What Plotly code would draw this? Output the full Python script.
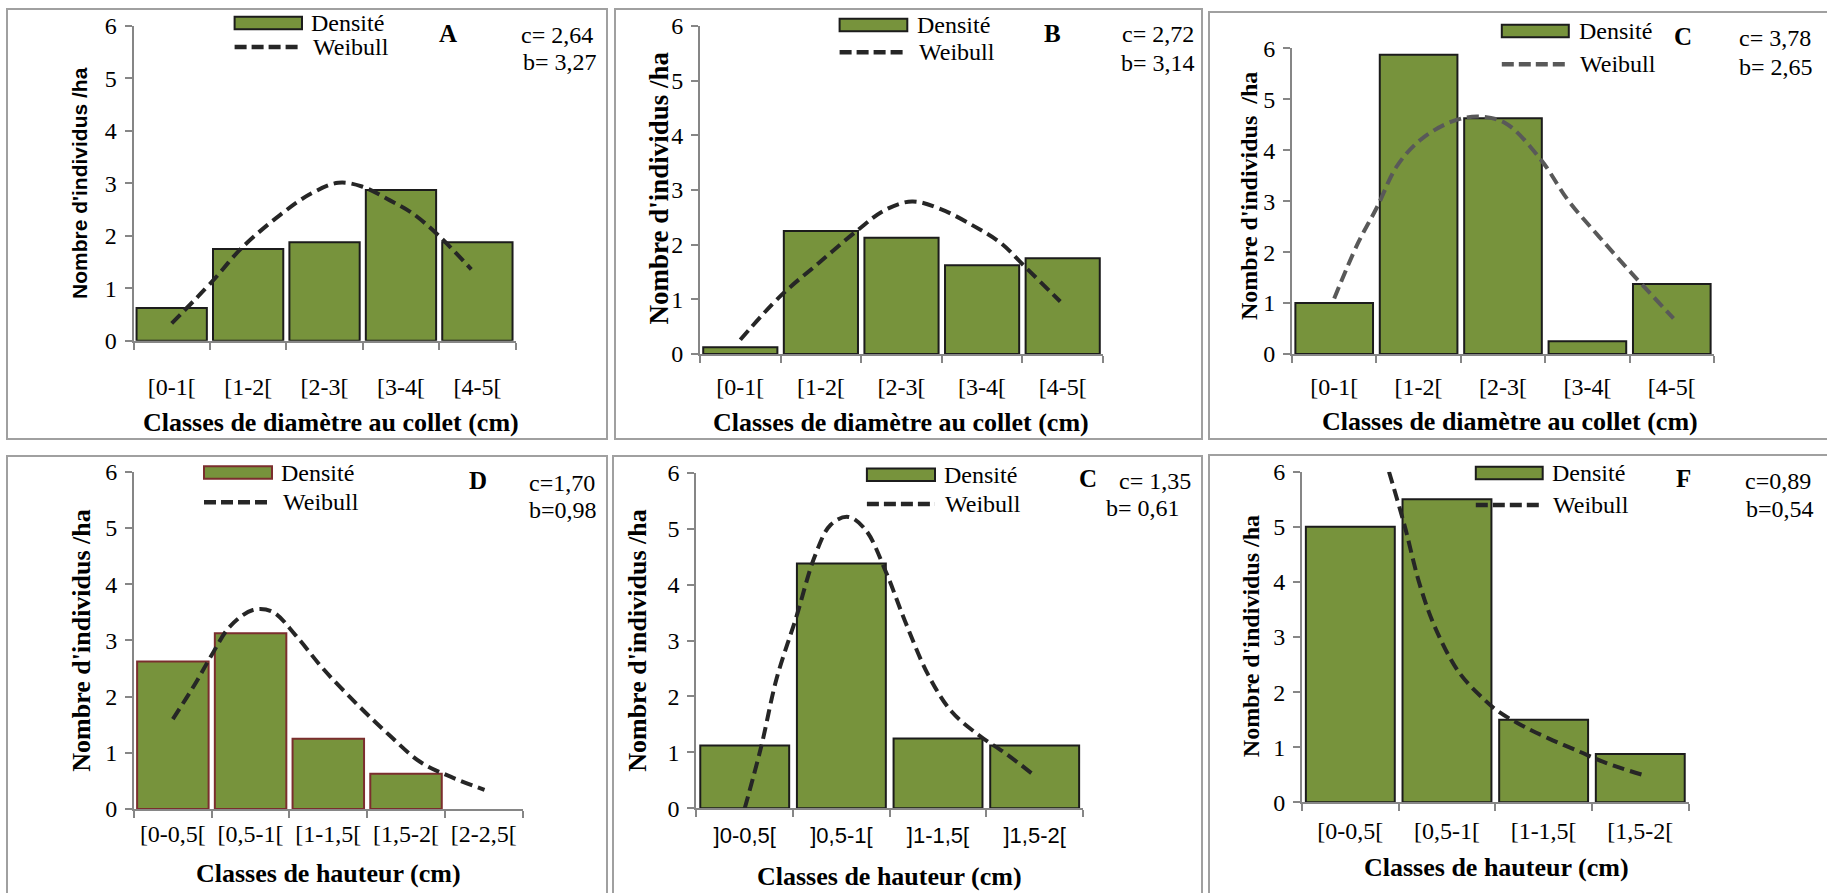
import plotly.graph_objects as go

W, H = 1827, 893

# ---------------- data ----------------
diam_categories = ["[0-1[", "[1-2[", "[2-3[", "[3-4[", "[4-5["]
haut_categories_D = ["[0-0,5[", "[0,5-1[", "[1-1,5[", "[1,5-2[", "[2-2,5["]
haut_categories_E = ["]0-0,5[", "]0,5-1[", "]1-1,5[", "]1,5-2["]
haut_categories_F = ["[0-0,5[", "[0,5-1[", "[1-1,5[", "[1,5-2["]

A_density = [0.625, 1.75, 1.875, 2.875, 1.875]
A_weibull_x = [0.0, 0.53, 0.91, 1.42, 1.83, 2.18, 2.49, 2.85, 3.15, 3.51, 3.92]
A_weibull_y = [0.33, 1.13, 1.76, 2.40, 2.81, 3.01, 2.94, 2.68, 2.43, 1.98, 1.36]

B_density = [0.125, 2.25, 2.125, 1.625, 1.75]
B_weibull_x = [0.0, 0.49, 0.97, 1.46, 1.79, 2.13, 2.47, 2.91, 3.24, 3.53, 3.97]
B_weibull_y = [0.26, 1.05, 1.66, 2.27, 2.63, 2.79, 2.66, 2.33, 2.02, 1.60, 0.96]

C_density = [1.0, 5.875, 4.625, 0.25, 1.375]
C_weibull_x = [0.0, 0.28, 0.51, 0.74, 1.02, 1.39, 1.71, 2.03, 2.45, 2.77, 3.14, 3.56, 4.02]
C_weibull_y = [1.09, 2.17, 2.89, 3.68, 4.20, 4.56, 4.66, 4.53, 3.81, 3.02, 2.30, 1.52, 0.70]

D_density = [2.625, 3.125, 1.25, 0.625, None]
D_weibull_x = [0.0, 0.28, 0.50, 0.73, 1.03, 1.28, 1.58, 1.93, 2.38, 2.78, 3.18, 3.58, 4.01]
D_weibull_y = [1.60, 2.21, 2.74, 3.24, 3.54, 3.51, 3.09, 2.50, 1.85, 1.32, 0.84, 0.57, 0.34]

E_density = [1.125, 4.375, 1.25, 1.125]
E_weibull_x = [0.0, 0.17, 0.33, 0.53, 0.73, 0.89, 1.07, 1.25, 1.46, 1.66, 1.90, 2.14, 2.42, 2.70, 3.01]
E_weibull_y = [0.0, 1.10, 2.32, 3.40, 4.53, 5.07, 5.21, 4.98, 4.23, 3.34, 2.38, 1.73, 1.31, 0.98, 0.57]

F_density = [5.0, 5.5, 1.5, 0.875]
F_weibull_x = [0.40, 0.56, 0.72, 0.88, 1.12, 1.37, 1.53, 1.77, 2.05, 2.37, 2.65, 3.02]
F_weibull_y = [6.0, 5.03, 3.94, 3.16, 2.37, 1.89, 1.65, 1.40, 1.16, 0.92, 0.71, 0.50]

y_ticks = [0, 1, 2, 3, 4, 5, 6]

title_diam = "Classes de diamètre au collet (cm)"
title_haut = "Classes de hauteur (cm)"
title_y = "Nombre d'individus /ha"
title_y_C = "Nombre d'individus  /ha"

SERIF = "Liberation Serif"
SANS = "Liberation Sans"
GREEN = "#77933c"

panels = [
    dict(cats=diam_categories, dens=A_density, wx=A_weibull_x, wy=A_weibull_y,
         letter="A", ctext="c= 2,64", btext="b= 3,27", xtitle=title_diam, ytitle=title_y,
         yfont=SANS, ysize=21, barline="#1c1c1c", wcolor="#262626", catfont=SERIF, xstand=23,
         frame=(7, 9, 607, 439), plot=(133.5, 515.6, 26, 340.7),
         leg=(234.6, 302, 23, 47, 309), letterpos=(448, 34),
         cpos=(595, 35), bpos=(599, 62), xtpos=(331, 422), ytpos=(80, 183)),
    dict(cats=diam_categories, dens=B_density, wx=B_weibull_x, wy=B_weibull_y,
         letter="B", ctext="c= 2,72", btext="b= 3,14", xtitle=title_diam, ytitle=title_y,
         yfont=SERIF, ysize=27, barline="#1c1c1c", wcolor="#262626", catfont=SERIF, xstand=10,
         frame=(615, 9, 1202, 439), plot=(700, 1103, 26, 354),
         leg=(839.6, 907.3, 25, 52.3, 915), letterpos=(1052, 33),
         cpos=(1196, 34), bpos=(1197, 63), xtpos=(900.7, 422), ytpos=(658.5, 188)),
    dict(cats=diam_categories, dens=C_density, wx=C_weibull_x, wy=C_weibull_y,
         letter="C", ctext="c= 3,78", btext="b= 2,65", xtitle=title_diam, ytitle=title_y_C,
         yfont=SERIF, ysize=24, barline="#1c1c1c", wcolor="#595959", catfont=SERIF, xstand=10,
         frame=(1209, 12, 1832, 439), plot=(1292, 1714, 48.3, 354),
         leg=(1501.8, 1568.8, 31, 64.3, 1576.5), letterpos=(1682.8, 36.7),
         cpos=(1813, 38.3), bpos=(1815, 66.7), xtpos=(1509.6, 421), ytpos=(1249, 196)),
    dict(cats=haut_categories_D, dens=D_density, wx=D_weibull_x, wy=D_weibull_y,
         letter="D", ctext="c=1,70", btext="b=0,98", xtitle=title_haut, ytitle=title_y,
         yfont=SERIF, ysize=26, barline="#7b2e2e", wcolor="#262626", catfont=SERIF, xstand=2,
         frame=(7, 456, 607, 900), plot=(134, 522.6, 471.7, 809),
         leg=(204, 272, 472.5, 502.3, 279), letterpos=(478.3, 480.8),
         cpos=(597, 483), bpos=(599, 510), xtpos=(328.8, 873), ytpos=(80.7, 640)),
    dict(cats=haut_categories_E, dens=E_density, wx=E_weibull_x, wy=E_weibull_y,
         letter="C", ctext="c= 1,35", btext="b= 0,61", xtitle=title_haut, ytitle=title_y,
         yfont=SERIF, ysize=26, barline="#1c1c1c", wcolor="#262626", catfont=SANS, xstand=6,
         frame=(613, 456, 1202, 900), plot=(696.4, 1083, 472.7, 808.3),
         leg=(866.9, 935, 474.7, 504, 941.6), letterpos=(1088, 479),
         cpos=(1192.5, 480.8), bpos=(1181.7, 508.3), xtpos=(889, 876), ytpos=(638, 640.8)),
    dict(cats=haut_categories_F, dens=F_density, wx=F_weibull_x, wy=F_weibull_y,
         letter="F", ctext="c=0,89", btext="b=0,54", xtitle=title_haut, ytitle=title_y,
         yfont=SERIF, ysize=24, barline="#1c1c1c", wcolor="#262626", catfont=SERIF, xstand=6,
         frame=(1209, 455, 1832, 900), plot=(1302, 1688.6, 471.7, 802.3),
         leg=(1475.8, 1542.7, 473, 505, 1549.7), letterpos=(1683.7, 478.3),
         cpos=(1813, 480.8), bpos=(1816, 509), xtpos=(1496, 867), ytpos=(1250.5, 636.7)),
]


def px(x):
    return x / W


def py(y):
    return 1 - y / H


fig = go.Figure()
shapes = []
annotations = []
layout_axes = {}

for i, p in enumerate(panels):
    n = i + 1
    xa = "x" if n == 1 else f"x{n}"
    ya = "y" if n == 1 else f"y{n}"
    xkey = "xaxis" if n == 1 else f"xaxis{n}"
    ykey = "yaxis" if n == 1 else f"yaxis{n}"
    ncat = len(p["cats"])
    centers = [k + 0.5 for k in range(ncat)]

    fig.add_trace(go.Bar(
        x=centers, y=p["dens"], width=0.92, xaxis=xa, yaxis=ya,
        marker=dict(color=GREEN, line=dict(color=p["barline"], width=2)),
        showlegend=False, hoverinfo="y"))
    fig.add_trace(go.Scatter(
        x=[v + 0.5 for v in p["wx"]], y=p["wy"], xaxis=xa, yaxis=ya, mode="lines",
        line=dict(color=p["wcolor"], width=4, dash="12px,6px", shape="spline", smoothing=1.0),
        showlegend=False, hoverinfo="y"))

    x0, x1, y6, y0 = p["plot"]
    layout_axes[xkey] = dict(
        domain=[px(x0), px(x1)], range=[0, ncat], anchor=ya, automargin=False,
        tickmode="array", tickvals=centers, ticktext=p["cats"], ticks="",
        ticklabelstandoff=p["xstand"],
        tickfont=dict(family=p["catfont"], size=24 if p["catfont"] == SERIF else 22, color="#000"),
        showline=True, linecolor="#868686", linewidth=2, showgrid=False, zeroline=False,
        minor=dict(tickmode="array", tickvals=list(range(ncat + 1)), ticks="outside",
                   ticklen=7, tickcolor="#868686", tickwidth=2),
        fixedrange=True)
    layout_axes[ykey] = dict(
        domain=[py(y0), py(y6)], range=[0, 6], anchor=xa, automargin=False,
        tickmode="array", tickvals=y_ticks, ticks="outside", ticklen=7,
        tickcolor="#868686", tickwidth=2, ticklabelstandoff=3,
        tickfont=dict(family=SERIF, size=24, color="#000"),
        showline=True, linecolor="#868686", linewidth=2, showgrid=False, zeroline=False,
        fixedrange=True)

    # frame
    fx0, fy0, fx1, fy1 = p["frame"]
    shapes.append(dict(type="rect", xref="paper", yref="paper",
                       x0=px(fx0), x1=px(fx1), y0=py(fy1), y1=py(fy0),
                       line=dict(color="#a0a0a0", width=2), fillcolor="rgba(0,0,0,0)", layer="below"))

    # legend
    lx0, lx1, lby, lly, ltx = p["leg"]
    shapes.append(dict(type="rect", xref="paper", yref="paper",
                       x0=px(lx0), x1=px(lx1), y0=py(lby + 6.3), y1=py(lby - 6.3),
                       line=dict(color=p["barline"], width=2), fillcolor=GREEN))
    shapes.append(dict(type="line", xref="paper", yref="paper",
                       x0=px(lx0), x1=px(lx1), y0=py(lly), y1=py(lly),
                       line=dict(color=p["wcolor"], width=4.5, dash="12px,5px")))
    annotations.append(dict(text="Densité", xref="paper", yref="paper", x=px(ltx), y=py(lby),
                            xanchor="left", yanchor="middle", showarrow=False,
                            font=dict(family=SERIF, size=24, color="#000")))
    annotations.append(dict(text="Weibull", xref="paper", yref="paper", x=px(ltx + 1.5), y=py(lly),
                            xanchor="left", yanchor="middle", showarrow=False,
                            font=dict(family=SERIF, size=24, color="#000")))

    # letter and parameters
    annotations.append(dict(text="<b>" + p["letter"] + "</b>", xref="paper", yref="paper",
                            x=px(p["letterpos"][0]), y=py(p["letterpos"][1]),
                            xanchor="center", yanchor="middle", showarrow=False,
                            font=dict(family=SERIF, size=25, color="#000")))
    annotations.append(dict(text=p["ctext"], xref="paper", yref="paper",
                            x=px(p["cpos"][0]), y=py(p["cpos"][1]),
                            xanchor="right", yanchor="middle", showarrow=False,
                            font=dict(family=SERIF, size=24, color="#000")))
    annotations.append(dict(text=p["btext"], xref="paper", yref="paper",
                            x=px(p["bpos"][0]), y=py(p["bpos"][1]),
                            xanchor="right", yanchor="middle", showarrow=False,
                            font=dict(family=SERIF, size=24, color="#000")))

    # axis titles
    annotations.append(dict(text="<b>" + p["xtitle"] + "</b>", xref="paper", yref="paper",
                            x=px(p["xtpos"][0]), y=py(p["xtpos"][1]),
                            xanchor="center", yanchor="middle", showarrow=False,
                            font=dict(family=SERIF, size=26, color="#000")))
    annotations.append(dict(text="<b>" + p["ytitle"] + "</b>", xref="paper", yref="paper",
                            x=px(p["ytpos"][0]), y=py(p["ytpos"][1]), textangle=-90,
                            xanchor="center", yanchor="middle", showarrow=False,
                            font=dict(family=p["yfont"], size=p["ysize"], color="#000")))

fig.update_layout(
    width=W, height=H, margin=dict(l=0, r=0, t=0, b=0, pad=0, autoexpand=False),
    paper_bgcolor="white", plot_bgcolor="rgba(0,0,0,0)",
    shapes=shapes, annotations=annotations, showlegend=False, barmode="overlay",
    **layout_axes)

fig.write_html(
    "out.html",
    config={"displayModeBar": False},
    post_script="document.body.style.margin='0';document.body.style.padding='0';"
                "document.body.style.overflow='hidden';"
                "document.documentElement.style.overflow='hidden';")
